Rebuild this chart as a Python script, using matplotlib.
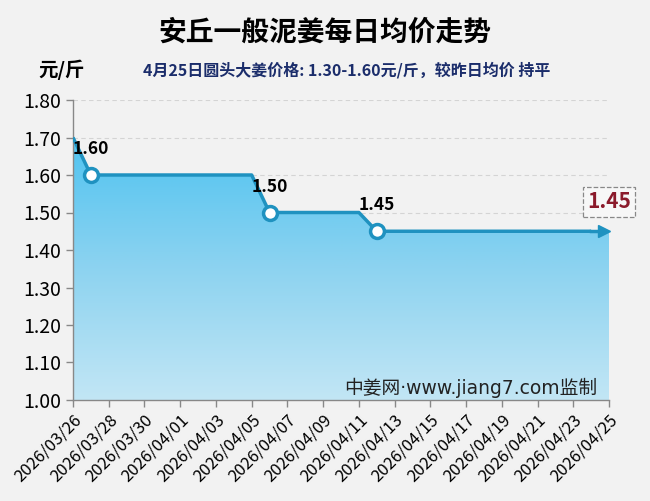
import numpy as np
import pandas as pd
import matplotlib
matplotlib.use("Agg")
from matplotlib import pyplot as plt
from matplotlib.colors import LinearSegmentedColormap

plt.rcParams['font.family'] = ['Noto Sans CJK SC', 'DejaVu Sans']

# daily prices, yuan / jin
dates = pd.date_range("2026-03-26", "2026-04-25", freq="D")
prices = [1.70] + [1.60] * 10 + [1.50] * 6 + [1.45] * 14
tick_dates = pd.date_range("2026-03-26", "2026-04-25", freq="2D")
yticks = [1.00, 1.10, 1.20, 1.30, 1.40, 1.50, 1.60, 1.70, 1.80]

title = "安丘一般泥姜每日均价走势"
subtitle = "4月25日圆头大姜价格: 1.30-1.60元/斤，较昨日均价 持平"
unit = "元/斤"
watermark = "中姜网·www.jiang7.com监制"

bg = "#f2f2f2"
line_c = "#1f92c0"

fig = plt.figure(figsize=(6.5, 5.01), dpi=100, facecolor=bg)
ax = fig.add_axes([73 / 650, 1 - 400 / 501, (609 - 73) / 650, 300 / 501])
ax.set_facecolor(bg)

x = np.arange(len(dates))
y = np.array(prices)

# gradient fill under the line
poly = ax.fill_between(x, y, 1.0, color="none", lw=0)
cmap = LinearSegmentedColormap.from_list("g", ["#c2e6f5", "#8dd3f0", "#4fc3f0"])
grad = np.linspace(0, 1, 256).reshape(-1, 1)
img = ax.imshow(grad, cmap=cmap, origin="lower", aspect="auto",
                extent=[x[0], x[-1], 1.0, 1.7], zorder=1)
img.set_clip_path(poly.get_paths()[0], transform=ax.transData)

for t in yticks[1:]:
    ax.axhline(t, color="#d4d4d4", lw=0.8, ls=(0, (4, 3)), zorder=0.5)

ax.plot(x[:-1], y[:-1], color=line_c, lw=2.5, zorder=3, solid_capstyle="butt")
ax.plot([x[-2], x[-1] - 0.4], [y[-2], y[-1]], color=line_c, lw=2.5, zorder=3)
ax.plot(x[-1] - 0.3, y[-1], marker=">", color=line_c, ms=9, zorder=4, clip_on=False)

# markers at change points
chg = [i for i in range(1, len(y)) if y[i] != y[i - 1]]
ax.plot(x[chg], y[chg], "o", ms=10, mfc="white", mec=line_c, mew=2.5, zorder=5)
for i in chg:
    ax.text(x[i], y[i] + 0.045, f"{y[i]:.2f}", fontsize=12.5, fontweight="heavy",
            ha="center", va="bottom", zorder=6)

ax.text(x[-1], y[-1] + 0.078, f"{y[-1]:.2f}", fontsize=15, fontweight="bold",
        color="#8b1a2b", ha="center", va="center", zorder=6,
        bbox=dict(boxstyle="square,pad=0.2", fc="#f7f7f7", ec="#888888", ls="--", lw=0.9))

ax.set_xlim(x[0], x[-1])
ax.set_ylim(1.0, 1.8)
ax.set_yticks(yticks)
ax.set_yticklabels([f"{v:.2f}" for v in yticks], fontsize=14)
tick_pos = [dates.get_loc(d) for d in tick_dates]
ax.set_xticks(tick_pos)
ax.set_xticklabels([d.strftime("%Y/%m/%d") for d in tick_dates], rotation=45,
                   ha="right", rotation_mode="anchor", fontsize=12)
ax.tick_params(axis="both", color="#888888", length=5, width=1)
ax.tick_params(axis="x", pad=3)
for s in ["top", "right"]:
    ax.spines[s].set_visible(False)
for s in ["left", "bottom"]:
    ax.spines[s].set_color("#888888")
    ax.spines[s].set_linewidth(1)

ax.text(0.978, 0.008, watermark, transform=ax.transAxes, ha="right", va="bottom",
        fontsize=13.5, color="#222222", zorder=7, family=['DejaVu Sans', 'Noto Sans CJK SC'])

fig.text(0.5, 1 - 33 / 501, title, ha="center", va="center", fontsize=20, fontweight="heavy")
fig.text(62 / 650, 1 - 70 / 501, unit, ha="center", va="center", fontsize=14, fontweight="bold")
fig.text(347 / 650, 1 - 70 / 501, subtitle, ha="center", va="center", fontsize=11.5,
         fontweight="bold", color="#1b2d6b")

fig.savefig("out.png", dpi=100, facecolor=bg)
